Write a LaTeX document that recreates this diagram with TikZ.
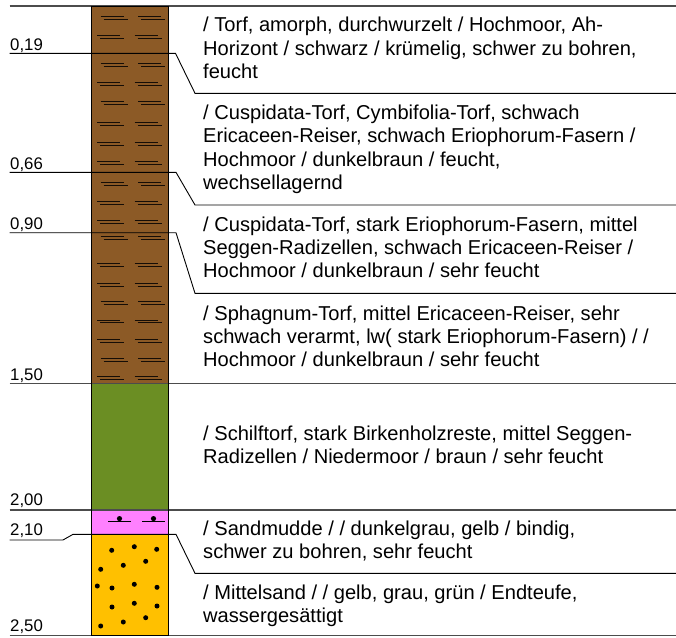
\documentclass[tikz,border=0pt]{standalone}
\usepackage{fontspec}
\setmainfont{Liberation Sans}
\definecolor{peat}{RGB}{140,90,38}
\definecolor{reed}{RGB}{107,142,35}
\definecolor{mud}{RGB}{255,128,255}
\definecolor{sand}{RGB}{255,192,0}
\begin{document}
\begin{tikzpicture}[x=1pt,y=-1pt,
  rule/.style={black!70,line width=1.1pt},
  lead/.style={black,line width=0.9pt},
  desc/.style={anchor=west,align=left,inner sep=0pt,font=\fontsize{20.1}{23.3}\selectfont},
  depthlabel/.style={anchor=base west,inner sep=0pt,font=\fontsize{16.8}{19}\selectfont},
  hatch/.style={line width=1pt,draw=black!85!peat},
  grain/.style={fill=black}]
\useasboundingbox (0,0) rectangle (676,637);

% layer fills of the borehole column
\fill[peat] (91.5,6) rectangle (168.5,383.3);
\fill[reed] (91.5,383.3) rectangle (168.5,510);
\fill[mud]  (91.5,510) rectangle (168.5,534.3);
\fill[sand] (91.5,534.3) rectangle (168.5,635.3);

% peat symbols: paired short dashes
\foreach \y/\x in {16.7/100.5, 35.5/97,
                   63.3/100.5, 82.7/97, 101.7/100.5, 122.7/97, 142.7/97, 161.7/97,
                   182.7/100.5, 201.7/97, 220.7/97,
                   236.5/100.5, 263.3/97, 283.3/97, 301.7/100.5, 320/97, 339.3/97, 358.3/100.5, 376.7/97}{
  \draw[hatch] (\x,\y) -- ++(23,0) (\x+3,\y+2.8) -- ++(24,0);
  \draw[hatch] (\x+37.5,\y) -- ++(23,0) (\x+40.5,\y+2.8) -- ++(24,0);
}

% sandy mud symbols
\foreach \x in {108,142}{
  \draw[black,line width=1pt] (\x,521.7) -- ++(23,0);
  \fill (\x+11.5,518.6) circle (2.6);
}

% sand grains
\foreach \x/\y in {111.7/550.3, 134.3/546.7, 156.7/549.3, 145.7/561.3, 123.3/565.3, 100.7/569.3,
                   97.3/586, 112/588, 134.3/584.3, 157/587.3,
                   112/607, 134.3/603.3, 157/606, 145.7/617.7, 123.3/622, 100.7/626}{
  \fill[grain] (\x,\y) circle (2.5);
}

% boundary lines
\coordinate (T0) at (9.5,6);      \coordinate (T1) at (676,6);
\coordinate (L1) at (9.5,53.3);   \coordinate (K1) at (175.5,53.3);
\coordinate (R1) at (195,93.3);   \coordinate (E1) at (676,93.3);
\coordinate (L2) at (9.5,172.3);  \coordinate (K2) at (176,172.3);
\coordinate (R2) at (195,205);    \coordinate (E2) at (676,205);
\coordinate (L3) at (9.5,232.7);  \coordinate (K3) at (176,232.7);
\coordinate (R3) at (195,293.3);  \coordinate (E3) at (676,293.3);
\coordinate (L4) at (9.5,383.3);  \coordinate (E4) at (676,383.3);
\coordinate (L5) at (9.5,510);    \coordinate (E5) at (676,510);
\coordinate (L6) at (9.5,540);    \coordinate (J6) at (63,540);
\coordinate (I6) at (73,534.3);   \coordinate (K6) at (176,534.3);
\coordinate (R6) at (195,573.3);  \coordinate (E6) at (676,573.3);
\coordinate (L7) at (9.5,635.5);  \coordinate (E7) at (676,635.5);

\draw[rule] (T0) -- (T1);
\draw[lead] (L1) -- (K1) -- (R1) -- (E1);
\draw[lead] (L2) -- (K2) -- (R2) -- (E2);
\draw[lead] (L3) -- (K3) -- (R3) -- (E3);
\draw[rule] (L4) -- (E4);
\draw[rule] (L5) -- (E5);
\draw[lead] (L6) -- (J6) -- (I6) -- (K6) -- (R6) -- (E6);
\draw[rule] (L7) -- (E7);

% column outline
\draw[black,line width=1pt] (91.5,6) rectangle (168.5,635.3);

% depth labels
\node[depthlabel] (d1) at (10,50.7)  {0,19};
\node[depthlabel] (d2) at (10,169.3) {0,66};
\node[depthlabel] (d3) at (10,229.3) {0,90};
\node[depthlabel] (d4) at (10,380.7) {1,50};
\node[depthlabel] (d5) at (10,505.5) {2,00};
\node[depthlabel] (d6) at (10,535.7) {2,10};
\node[depthlabel] (d7) at (10,631.7) {2,50};

% layer descriptions
\node[desc] (t1) at (203,50.4) {\strut/ Torf, amorph, durchwurzelt / Hochmoor, Ah-\\Horizont / schwarz / krümelig, schwer zu bohren,\\feucht\strut};
\node[desc] (t2) at (203,149.9) {\strut/ Cuspidata-Torf, Cymbifolia-Torf, schwach\\Ericaceen-Reiser, schwach Eriophorum-Fasern /\\Hochmoor / dunkelbraun / feucht,\\wechsellagernd\strut};
\node[desc] (t3) at (203,249.9) {\strut/ Cuspidata-Torf, stark Eriophorum-Fasern, mittel\\Seggen-Radizellen, schwach Ericaceen-Reiser /\\Hochmoor / dunkelbraun / sehr feucht\strut};
\node[desc] (t4) at (203,339) {\strut/ Sphagnum-Torf, mittel Ericaceen-Reiser, sehr\\schwach verarmt, lw( stark Eriophorum-Fasern) / /\\Hochmoor / dunkelbraun / sehr feucht\strut};
\node[desc] (t5) at (203,447.4) {\strut/ Schilftorf, stark Birkenholzreste, mittel Seggen-\\Radizellen / Niedermoor / braun / sehr feucht\strut};
\node[desc] (t6) at (203,542.4) {\strut/ Sandmudde / / dunkelgrau, gelb / bindig,\\schwer zu bohren, sehr feucht\strut};
\node[desc] (t7) at (203,606) {\strut/ Mittelsand / / gelb, grau, grün / Endteufe,\\wassergesättigt\strut};
\end{tikzpicture}
\end{document}
